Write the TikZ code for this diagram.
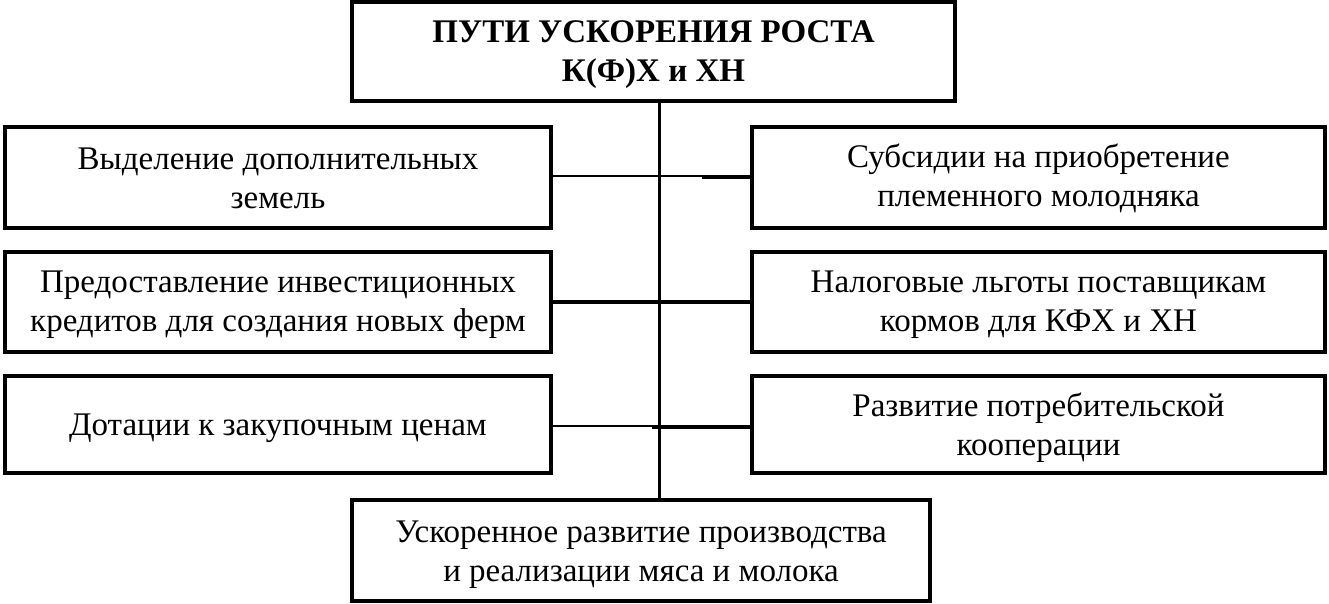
\documentclass[tikz,border=0pt]{standalone}
\usepackage{fontspec}
\setmainfont{Liberation Serif}
\begin{document}
\begin{tikzpicture}[x=1pt,y=-1pt,
  box/.style={draw,line width=3.2pt,inner sep=0pt,outer sep=0pt},
  txt/.style={inner sep=0pt,align=center,font=\fontsize{33}{39}\selectfont},
  thinl/.style={line width=2.3pt},
  thickl/.style={line width=3.2pt}]
\useasboundingbox (0,0) rectangle (1329,603);
\node[box,minimum width=603,minimum height=99] (top) at (653.5,51.5) {};
\node[box,minimum width=578,minimum height=101] (bot) at (641,550.5) {};
\node[box,minimum width=546,minimum height=101] (l1) at (278,177.5) {};
\node[box,minimum width=546,minimum height=100] (l2) at (278,302) {};
\node[box,minimum width=546,minimum height=97] (l3) at (278,424.5) {};
\node[box,minimum width=573,minimum height=101] (r1) at (1038.5,177.5) {};
\node[box,minimum width=573,minimum height=100] (r2) at (1038.5,302) {};
\node[box,minimum width=573,minimum height=97] (r3) at (1038.5,424.5) {};
\node[txt,font=\bfseries\fontsize{33}{39}\selectfont] (topt) at ([yshift=-3pt]top.center)
  {ПУТИ УСКОРЕНИЯ РОСТА\\К(Ф)Х и ХН};
\node[txt] (bott) at ([yshift=-4pt]bot.center)
  {Ускоренное развитие производства\\и реализации мяса и молока};
\node[txt] (l1t) at ([yshift=-1pt]l1.center) {Выделение дополнительных\\земель};
\node[txt] (l2t) at ([yshift=-3pt]l2.center) {Предоставление инвестиционных\\кредитов для создания новых ферм};
\node[txt] (l3t) at ([yshift=-3.5pt]l3.center) {Дотации к закупочным ценам};
\node[txt] (r1t) at ([yshift=-1pt]r1.center) {Субсидии на приобретение\\племенного молодняка};
\node[txt] (r2t) at ([yshift=-3pt]r2.center) {Налоговые льготы поставщикам\\кормов для КФХ и ХН};
\node[txt] (r3t) at ([yshift=-3pt]r3.center) {Развитие потребительской\\кооперации};
\coordinate (sp) at (659.5,0);
\coordinate (k1) at (702,176);
\coordinate (k1b) at (702,177);
\coordinate (k3) at (652,426);
\coordinate (k3b) at (652,427);
% spine
\draw[thinl] (top.south -| sp) -- (bot.north -| sp);
% row 1
\draw[thinl] (l1.east |- k1) -- (k1);
\draw[thickl] (k1b) -- (r1.west |- k1b);
% row 2
\draw[thickl] (l2.east) -- (r2.west);
% row 3
\draw[thinl] (l3.east |- k3) -- (k3);
\draw[thickl] (k3b) -- (r3.west |- k3b);
\end{tikzpicture}
\end{document}
